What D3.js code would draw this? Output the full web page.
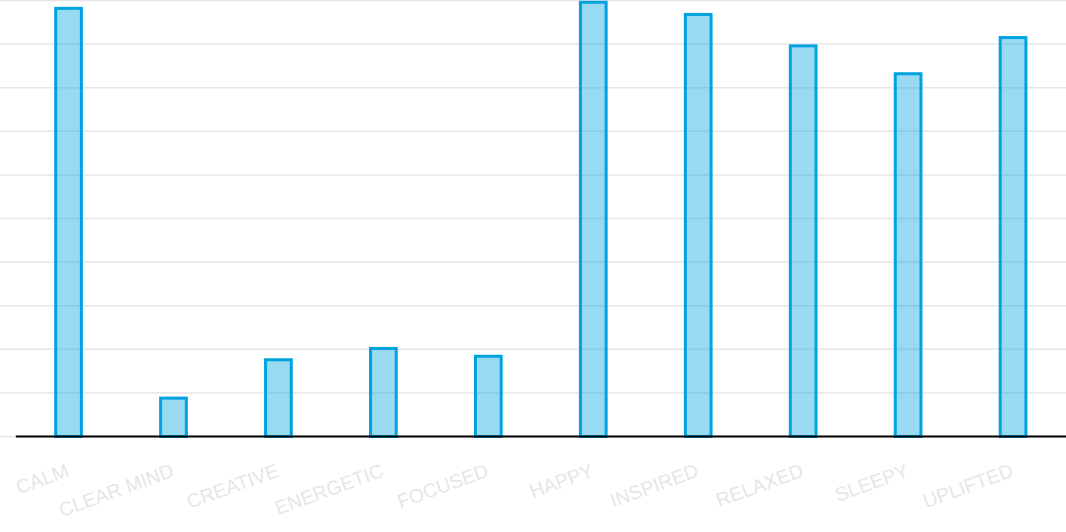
<!DOCTYPE html>
<html>
<head>
<meta charset="utf-8">
<script src="https://cdn.jsdelivr.net/npm/d3@7"></script>
<style>
  body { margin: 0; background: #fff; }
  svg { display: block; }
</style>
</head>
<body>
<div id="chart"></div>
<script>
// moods and their scores (0-100)
var moods = ["CALM", "CLEAR MIND", "CREATIVE", "ENERGETIC", "FOCUSED",
             "HAPPY", "INSPIRED", "RELAXED", "SLEEPY", "UPLIFTED"];
var scores = [98.2, 8.8, 17.6, 20.2, 18.4, 99.6, 96.8, 89.6, 83.2, 91.5];
var gridTicks = [0, 10, 20, 30, 40, 50, 60, 70, 80, 90, 100];

var width = 1066, height = 532;
var baseY = 436.5;

var svg = d3.select("#chart").append("svg")
  .attr("width", width)
  .attr("height", height);

var x = d3.scaleBand()
  .domain(moods)
  .range([15.8, 1065.8])
  .paddingInner(0.755)
  .paddingOuter(0.38);

var y = d3.scaleLinear()
  .domain([0, 100])
  .range([baseY, 0.5]);

// horizontal grid
svg.append("g")
  .selectAll("line")
  .data(gridTicks)
  .enter().append("line")
  .attr("x1", 0)
  .attr("x2", width)
  .attr("y1", function(d) { return y(d); })
  .attr("y2", function(d) { return y(d); })
  .style("stroke", "#e6e6e6")
  .style("stroke-width", 1.5);

// bars
svg.append("g")
  .selectAll("rect")
  .data(scores)
  .enter().append("rect")
  .attr("x", function(d, i) { return x(moods[i]); })
  .attr("y", function(d) { return y(d); })
  .attr("width", x.bandwidth())
  .attr("height", function(d) { return baseY - y(d); })
  .style("fill", "rgba(0,163,224,0.4)")
  .style("stroke", "#00a3e0")
  .style("stroke-width", 3);

// x axis line
svg.append("line")
  .attr("x1", 15.8)
  .attr("x2", width)
  .attr("y1", baseY)
  .attr("y2", baseY)
  .style("stroke", "#000")
  .style("stroke-width", 2);

// category labels, rotated
svg.append("g")
  .selectAll("text")
  .data(moods)
  .enter().append("text")
  .attr("transform", function(d) {
    return "translate(" + (x(d) + x.bandwidth() / 2 + 1.5) + "," + 476 + ") rotate(-20)";
  })
  .attr("text-anchor", "end")
  .attr("font-family", "'Liberation Sans', Arial, Helvetica, sans-serif")
  .attr("font-size", 19.5)
  .style("fill", "#e6e6e6")
  .text(function(d) { return d; });
</script>
</body>
</html>
